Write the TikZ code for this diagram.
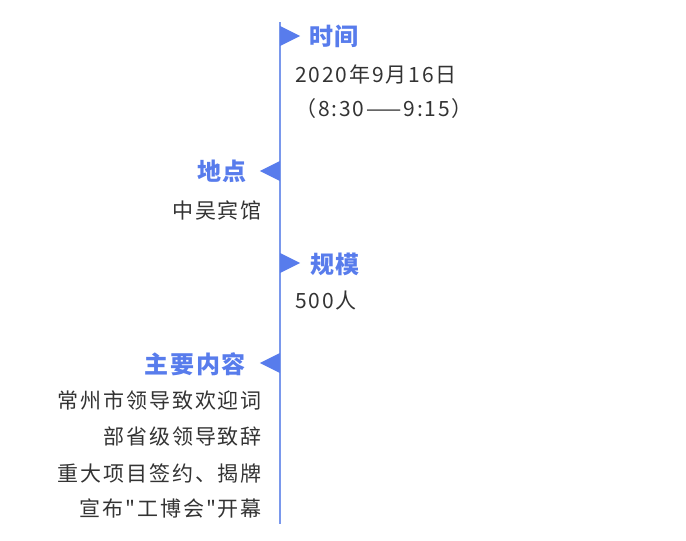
\documentclass[tikz,border=0pt]{standalone}
\usepackage{fontspec}
\newfontfamily\cjk[LetterSpace=9]{Noto Sans CJK SC}
\newfontfamily\cjkhead[LetterSpace=7]{Noto Sans CJK SC}
\usetikzlibrary{shapes.geometric}
\definecolor{tlblue}{RGB}{88,124,236}
\definecolor{tlline}{RGB}{122,152,236}
\definecolor{tltext}{RGB}{51,51,51}

\begin{document}
\begin{tikzpicture}[x=1pt, y=-1pt,
		head/.style={inner sep=0, text=tlblue, font=\cjkhead\fontsize{24}{28}\selectfont\bfseries},
		body/.style={inner sep=0, text=tltext, font=\cjk\fontsize{21}{25}\selectfont},
		tipR/.style={isosceles triangle, isosceles triangle stretches, fill=tlblue, inner sep=0,
			minimum width=20pt, minimum height=20pt, anchor=lower side},
		tipL/.style={tipR, shape border rotate=180}
		]
		\useasboundingbox (0,0) rectangle (686,541);
		\coordinate (top) at (280,22);
		\coordinate (bot) at (280,524);
		\draw[tlline, line width=1.6pt] (top) -- (bot);
		% time
		\node[tipR] (k1) at (280,36) {};
		\node[head, anchor=west] (h1) at (309,36) {时间};
		\node[body, anchor=west] (b1) at (295,74) {2020年9月16日};
		\node[body, anchor=west] (b2) at (295,109) {（8:30——9:15）};
		% place
		\node[tipL] (k2) at (280,171) {};
		\node[head, anchor=east] (h2) at (247,171) {地点};
		\node[body, anchor=east] (b3) at (262,210) {中吴宾馆};
		% size
		\node[tipR] (k3) at (280,263) {};
		\node[head, anchor=west] (h3) at (310,264) {规模};
		\node[body, anchor=west] (b4) at (295,301) {500人};
		% content
		\node[tipL] (k4) at (280,363) {};
		\node[head, anchor=east] (h4) at (246,364) {主要内容};
		\node[body, anchor=east] (b5) at (262,400) {常州市领导致欢迎词};
		\node[body, anchor=east] (b6) at (262,437) {部省级领导致辞};
		\node[body, anchor=east] (b7) at (262,473) {重大项目签约、揭牌};
		\node[body, anchor=east] (b8) at (262,509) {宣布"工博会"开幕};
	\end{tikzpicture}
\end{document}
